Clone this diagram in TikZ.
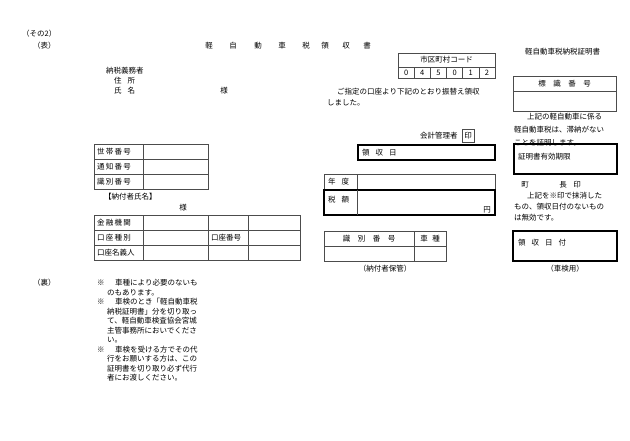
\documentclass[tikz,border=0pt]{standalone}
\usepackage{fontspec}
\setmainfont{Noto Sans CJK JP}
\begin{document}
\begin{tikzpicture}[x=1pt,y=-1pt,
  tx/.style={inner sep=0pt,anchor=west,font=\fontsize{7.5}{9}\selectfont},
  tc/.style={inner sep=0pt,anchor=center,font=\fontsize{7.5}{9}\selectfont},
  thin/.style={draw=black!70,line width=0.5pt},
  thick/.style={draw=black,line width=1.2pt}]
\useasboundingbox[fill=white] (0,0) rectangle (630,440);
\newcommand\T[4]{\node[tx] (#1) at (#2,#3) {#4};}
\newcommand\C[4]{\node[tc] (#1) at (#2,#3) {#4};}
% header
\T{h1}{22}{34}{（その2）}
\T{h2}{33}{46}{（表）}
\foreach \c/\x [count=\i] in {軽/209,自/233,動/258,車/282,税/306,領/325,収/346,書/367}
  \node[tc] (ti\i) at (\x,46) {\c};
\T{cert}{525}{52}{軽自動車税納税証明書}
% code box
\draw[thin] (398,53) rectangle (495,78);
\draw[thin] (398,67) -- (495,67);
\C{code}{446.5}{60}{市区町村コード}
\foreach \d [count=\i] in {0,4,5,0,1,2}{
  \node[tc] (d\i) at ({398+(\i-0.5)*97/6},72.5) {\d};
  \ifnum\i>1 \draw[thin] ({398+(\i-1)*97/6},67) -- ({398+(\i-1)*97/6},78);\fi}
% payer
\T{p1}{106}{71}{納税義務者}
\T{p2}{114}{81}{住\hspace{0.8em}所}
\T{p3}{114}{91}{氏\hspace{0.8em}名}
\C{p4}{224}{91}{様}
\T{m1}{337}{92}{ご指定の口座より下記のとおり振替え領収}
\T{m2}{327}{103}{しました。}
\T{acc}{420}{136}{会計管理者}
\draw[thin] (462,129) rectangle (474,142);
\C{inn}{468}{135.5}{印}
% plate number
\draw[thin] (513,76) rectangle (616,111);
\draw[thin] (513,91) -- (616,91);
\C{plate}{564.5}{83.5}{標\hspace{1em}識\hspace{1em}番\hspace{1em}号}
\T{c1}{527}{117}{上記の軽自動車に係る}
\T{c2}{514}{130}{軽自動車税は、滞納がない}
\T{c3}{514}{143}{ことを証明します。}
% receipt date
\draw[thick] (358,145) rectangle (495,160);
\T{rd}{362}{152.5}{領\hspace{0.8em}収\hspace{0.8em}日}
\draw[thick] (514,144) rectangle (617,174);
\T{valid}{518}{157}{証明書有効期限}
\C{t1}{525}{185}{町}
\C{t2}{563}{185}{長}
\C{t3}{577}{185}{印}
\T{n1}{527}{196}{上記を※印で抹消した}
\T{n2}{514}{207}{もの、領収日付のないもの}
\T{n3}{514}{218}{は無効です。}
\draw[thick] (513,231) rectangle (617,261);
\T{rdt}{518}{243}{領\hspace{0.8em}収\hspace{0.8em}日\hspace{0.8em}付}
\C{sha}{565}{269}{（車検用）}
% year / tax
\draw[thin] (324,174) rectangle (495,190);
\draw[thin] (357,174) -- (357,190);
\T{yr}{328}{182}{年\hspace{0.8em}度}
\draw[thick] (324,190) rectangle (495,215);
\draw[thin] (357,190) -- (357,215);
\T{tax}{328}{200}{税\hspace{0.8em}額}
\C{yen}{487}{210}{円}
% id/type
\draw[thin] (324,231) rectangle (446,261);
\draw[thin] (324,246) -- (446,246);
\draw[thin] (414,231) -- (414,261);
\C{idn}{369}{238.5}{識\hspace{1em}別\hspace{1em}番\hspace{1em}号}
\C{sht}{430}{238.5}{車\hspace{0.6em}種}
\C{keep}{385}{269}{（納付者保管）}
% left table 1
\draw[thin] (94,144) rectangle (208,189);
\draw[thin] (94,159) -- (208,159) (94,174) -- (208,174) (143,144) -- (143,189);
\T{l1}{97}{151.5}{世\,帯\,番\,号}
\T{l2}{97}{166.5}{通\,知\,番\,号}
\T{l3}{97}{181.5}{識\,別\,番\,号}
\T{fn}{104}{197}{【納付者氏名】}
\C{sm}{183}{208}{様}
% left table 2
\draw[thin] (94,215) rectangle (300,260);
\draw[thin] (94,230) -- (300,230) (94,245) -- (300,245);
\draw[thin] (143,215) -- (143,260) (208,215) -- (208,260) (248,215) -- (248,260);
\T{b1}{97}{222.5}{金\,融\,機\,関}
\T{b2}{97}{237.5}{口\,座\,種\,別}
\T{b3}{97}{252.5}{口座名義人}
\T{b4}{211}{237.5}{口座番号}
% back notes
\T{ura}{33}{283}{（裏）}
\T{k1}{97}{283}{※}
\T{k1a}{115}{283}{車種により必要のないも}
\T{k1b}{107}{292.5}{のもあります。}
\T{k2}{97}{302}{※}
\T{k2a}{115}{302}{車検のとき「軽自動車税}
\T{k2b}{107}{311.5}{納税証明書」分を切り取っ}
\T{k2c}{107}{321}{て、軽自動車検査協会宮城}
\T{k2d}{107}{330.5}{主管事務所においでくださ}
\T{k2e}{107}{340}{い。}
\T{k3}{97}{349.5}{※}
\T{k3a}{115}{349.5}{車検を受ける方でその代}
\T{k3b}{107}{359}{行をお願いする方は、この}
\T{k3c}{107}{368.5}{証明書を切り取り必ず代行}
\T{k3d}{107}{378}{者にお渡しください。}
\end{tikzpicture}
\end{document}
